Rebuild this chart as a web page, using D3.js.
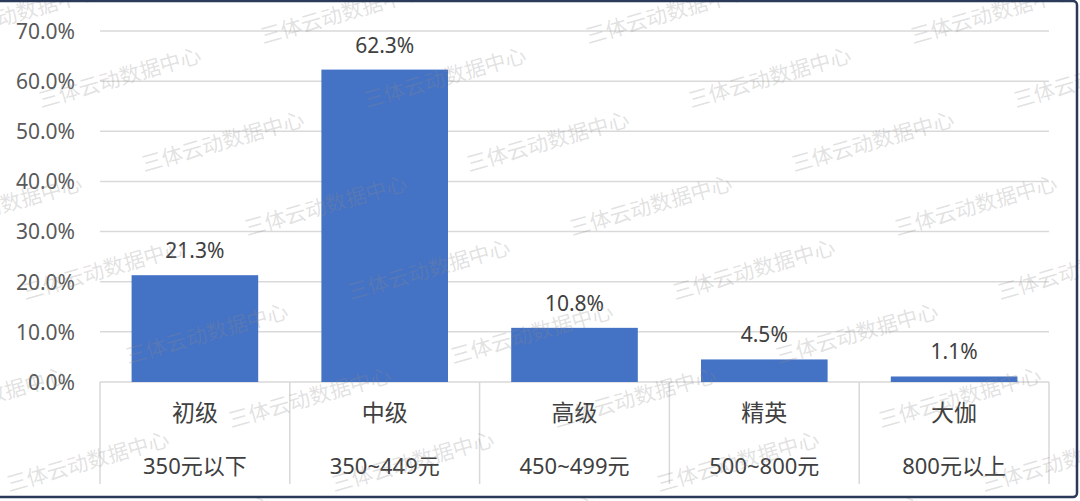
<!DOCTYPE html>
<html>
<head>
<meta charset="utf-8">
<script src="https://cdn.jsdelivr.net/npm/d3@7"></script>
<style>
  html, body { margin: 0; padding: 0; background: #fff; }
  svg { display: block; }
</style>
</head>
<body>
<svg id="chart" width="1080" height="501"></svg>
<script>
const levels = ["初级", "中级", "高级", "精英", "大伽"];
const priceRanges = ["350元以下", "350~449元", "450~499元", "500~800元", "800元以上"];
const shares = [21.3, 62.3, 10.8, 4.5, 1.1];
const yTicks = [0, 10, 20, 30, 40, 50, 60, 70];
const watermarkText = "三体云动数据中心";

const W = 1080, H = 501;
const m = { left: 100, right: 31, top: 31, bottom: 119 };
const svg = d3.select("#chart");
const font = "'Noto Sans', 'Noto Sans CJK SC', sans-serif";

const x = d3.scaleBand().domain(levels).range([m.left, W - m.right]).paddingInner(0.333).paddingOuter(0.1665);
const xb = d3.scaleBand().domain(levels).range([m.left, W - m.right]);
const y = d3.scaleLinear().domain([0, 70]).range([H - m.bottom, m.top]);

// gridlines
svg.append("g").selectAll("line").data(yTicks).join("line")
  .attr("x1", m.left).attr("x2", W - m.right)
  .attr("y1", d => y(d)).attr("y2", d => y(d))
  .attr("stroke", "#d9d9d9").attr("stroke-width", 1.5);

// y tick labels
const yAxis = d3.axisLeft(y).tickValues(yTicks).tickSize(0).tickPadding(0).tickFormat(d => d.toFixed(1) + "%");
const ya = svg.append("g").attr("transform", `translate(${m.left - 25},0)`).call(yAxis);
ya.select(".domain").remove();
ya.selectAll("text").attr("font-family", font).attr("font-size", 21).attr("fill", "#595959").attr("dy", "0.35em");

// bars
svg.append("g").selectAll("rect").data(shares).join("rect")
  .attr("x", (d, i) => x(levels[i]))
  .attr("width", x.bandwidth())
  .attr("y", d => y(d))
  .attr("height", d => y(0) - y(d))
  .attr("fill", "#4472C4");

// value labels
svg.append("g").selectAll("text").data(shares).join("text")
  .attr("x", (d, i) => x(levels[i]) + x.bandwidth() / 2)
  .attr("y", d => y(d) - 17)
  .attr("text-anchor", "middle")
  .attr("font-family", font).attr("font-size", 21).attr("fill", "#404040")
  .text(d => d.toFixed(1) + "%");

// category separators
const sepX = levels.map(l => xb(l)).concat([xb(levels[levels.length - 1]) + xb.bandwidth()]);
svg.append("g").selectAll("line").data(sepX).join("line")
  .attr("x1", d => d).attr("x2", d => d)
  .attr("y1", y(0)).attr("y2", y(0) + 102)
  .attr("stroke", "#d9d9d9").attr("stroke-width", 1.5);

// category labels
svg.append("g").selectAll("text").data(levels).join("text")
  .attr("x", d => xb(d) + xb.bandwidth() / 2)
  .attr("y", y(0) + 39)
  .attr("text-anchor", "middle")
  .attr("font-family", font).attr("font-size", 23).attr("fill", "#404040")
  .text(d => d);
svg.append("g").selectAll("text").data(priceRanges).join("text")
  .attr("x", (d, i) => xb(levels[i]) + xb.bandwidth() / 2)
  .attr("y", y(0) + 92)
  .attr("text-anchor", "middle")
  .attr("font-family", font).attr("font-size", 22).attr("fill", "#404040")
  .text(d => d);

// watermark (decoration)
const wm = svg.append("g").attr("pointer-events", "none");
for (let k = -1; k < 9; k++) {
  const yy = 44 + 64 * k;
  let off = ((25 + 103 * (k - 4)) % 325 + 325) % 325;
  for (let xx = off - 325; xx < W + 50; xx += 325) {
    wm.append("text")
      .attr("transform", `translate(${xx},${yy}) rotate(-16)`)
      .attr("font-family", "'Noto Sans CJK SC', sans-serif")
      .attr("font-size", 21)
      .attr("fill", "#8c8c8c").attr("fill-opacity", 0.26)
      .text(watermarkText);
  }
}

// frame border
svg.append("rect")
  .attr("x", -10).attr("y", 1).attr("width", 1087).attr("height", 496)
  .attr("rx", 4)
  .attr("fill", "none").attr("stroke", "#2a3a58").attr("stroke-width", 2.5);
</script>
</body>
</html>
